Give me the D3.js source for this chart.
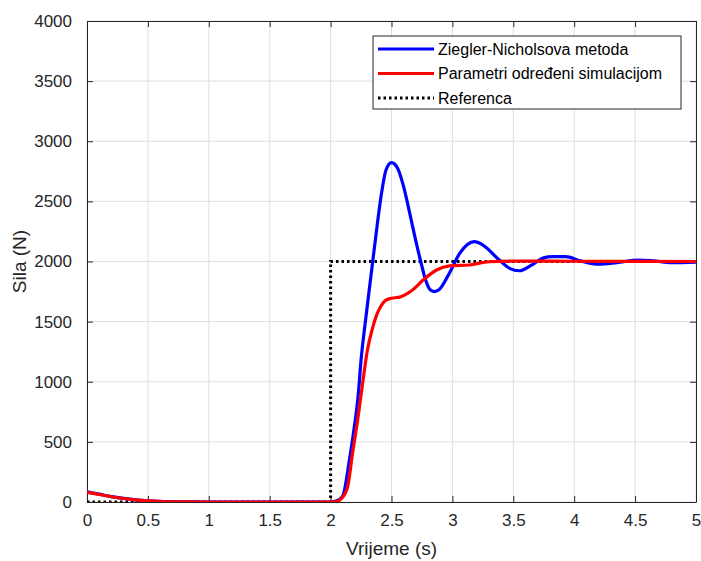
<!DOCTYPE html>
<html>
<head>
<meta charset="utf-8">
<script src="https://cdn.jsdelivr.net/npm/d3@7"></script>
<style>
html,body{margin:0;padding:0;background:#fff;}
svg{display:block;font-family:"Liberation Sans",Arial,Helvetica,sans-serif;}
</style>
</head>
<body>
<svg id="chart" width="701" height="561"></svg>
<script>
// ---- data ----
const zieglerTime = [0,0.1,0.2,0.3,0.4,0.5,0.6,0.8,1,2,2.05,2.1,2.154,2.195,2.228,2.25,2.282,2.33,2.37,2.414,2.455,2.5,2.55,2.6,2.65,2.7,2.74,2.78,2.82,2.85,2.89,2.975,3.06,3.18,3.25,3.385,3.47,3.55,3.65,3.75,3.82,3.93,4.05,4.2,4.35,4.53,4.65,4.8,5.0];
const zieglerForce = [85,65,45,30,18,10,5,1,0,0,10,50,349,626,904,1181,1470,1870,2200,2540,2761,2822,2775,2620,2400,2170,2000,1846,1762,1750,1765,1902,2068,2165,2137,2012,1943,1923,1970,2030,2040,2040,2005,1977,1990,2012,2005,1990,1995];

const simTime = [0,0.1,0.2,0.3,0.4,0.5,0.6,0.8,1,2,2.05,2.086,2.14,2.18,2.222,2.263,2.3,2.34,2.38,2.414,2.45,2.48,2.577,2.672,2.76,2.87,2.975,3.14,3.3,3.5,4,5];
const simForce = [80,62,44,29,17,9,4,1,0,0,5,25,127,405,682,987,1250,1430,1560,1630,1675,1690,1707,1763,1846,1929,1963,1971,1998,2003,2002,2000];

const refTime = [0,2,2,5];
const refForce = [0,0,2000,2000];

const seriesNames = ["Ziegler-Nicholsova metoda","Parametri određeni simulacijom","Referenca"];
const xTicks = [0,0.5,1,1.5,2,2.5,3,3.5,4,4.5,5];
const xTickLabels = ["0","0.5","1","1.5","2","2.5","3","3.5","4","4.5","5"];
const yTicks = [0,500,1000,1500,2000,2500,3000,3500,4000];
const xLabel = "Vrijeme (s)";
const yLabel = "Sila (N)";

// ---- layout ----
const svg = d3.select("#chart");
const L = 87, T = 21, R = 696, B = 502;
const x = d3.scaleLinear().domain([0,5]).range([L,R]);
const y = d3.scaleLinear().domain([0,4000]).range([B,T]);
const axisColor = "#262626";

// grid
const g = svg.append("g");
g.selectAll(".gx").data(xTicks).enter().append("line")
  .attr("x1",d=>x(d)).attr("x2",d=>x(d)).attr("y1",T).attr("y2",B)
  .attr("stroke","#dfdfdf").attr("stroke-width",1);
g.selectAll(".gy").data(yTicks).enter().append("line")
  .attr("x1",L).attr("x2",R).attr("y1",d=>y(d)).attr("y2",d=>y(d))
  .attr("stroke","#dfdfdf").attr("stroke-width",1);

// axes
const tickLen = 6;
const xAxisB = d3.axisBottom(x).tickValues(xTicks).tickFormat((d,i)=>xTickLabels[i]).tickSizeInner(-tickLen).tickSizeOuter(0).tickPadding(12);
const yAxisL = d3.axisLeft(y).tickValues(yTicks).tickFormat(d=>String(d)).tickSizeInner(-tickLen).tickSizeOuter(0).tickPadding(15);
const xAxisT = d3.axisTop(x).tickValues(xTicks).tickFormat("").tickSizeInner(-tickLen).tickSizeOuter(0);
const yAxisR = d3.axisRight(y).tickValues(yTicks).tickFormat("").tickSizeInner(-tickLen).tickSizeOuter(0);

function styleAxis(sel){
  sel.selectAll("path").attr("stroke",axisColor);
  sel.selectAll("line").attr("stroke",axisColor);
  sel.selectAll("text").attr("fill",axisColor).style("font-size","17px").style("font-family","'Liberation Sans',Arial,sans-serif");
}
svg.append("g").attr("transform",`translate(0,${B})`).call(xAxisB).call(styleAxis);
svg.append("g").attr("transform",`translate(${L},0)`).call(yAxisL).call(styleAxis);
svg.append("g").attr("transform",`translate(0,${T})`).call(xAxisT).call(styleAxis);
svg.append("g").attr("transform",`translate(${R},0)`).call(yAxisR).call(styleAxis);

// axis labels
svg.append("text").attr("x",(L+R)/2).attr("y",555).attr("text-anchor","middle")
  .attr("fill",axisColor).style("font-size","19px").text(xLabel);
svg.append("text").attr("transform",`translate(26,${(T+B)/2}) rotate(-90)`).attr("text-anchor","middle")
  .attr("fill",axisColor).style("font-size","19px").text(yLabel);

// clip
svg.append("clipPath").attr("id","clip").append("rect").attr("x",L).attr("y",T-2).attr("width",R-L).attr("height",B-T+2);
const plot = svg.append("g").attr("clip-path","url(#clip)");

const line = d3.line().x(d=>x(d[0])).y(d=>y(d[1]));
const smooth = d3.line().x(d=>x(d[0])).y(d=>y(d[1])).curve(d3.curveMonotoneX);

const refData = refTime.map((t,i)=>[t,refForce[i]]);
const zData = zieglerTime.map((t,i)=>[t,zieglerForce[i]]);
const sData = simTime.map((t,i)=>[t,simForce[i]]);

plot.append("path").datum(refData).attr("d",line).attr("fill","none")
  .attr("stroke","#000").attr("stroke-width",3).attr("stroke-dasharray","2.5,3");
plot.append("path").datum(zData).attr("d",smooth).attr("fill","none")
  .attr("stroke","#0000ff").attr("stroke-width",3.2).attr("stroke-linejoin","round");
plot.append("path").datum(sData).attr("d",smooth).attr("fill","none")
  .attr("stroke","#ff0000").attr("stroke-width",3.2).attr("stroke-linejoin","round");

// legend
const lg = svg.append("g");
lg.append("rect").attr("x",373).attr("y",36).attr("width",308).attr("height",73)
  .attr("fill","#fff").attr("stroke",axisColor).attr("stroke-width",1);
const legColors = ["#0000ff","#ff0000","#000"];
const legY = [49,73.5,98];
seriesNames.forEach((n,i)=>{
  lg.append("line").attr("x1",378).attr("x2",434).attr("y1",legY[i]).attr("y2",legY[i])
    .attr("stroke",legColors[i]).attr("stroke-width",3)
    .attr("stroke-dasharray", i===2 ? "2.5,3" : null);
  lg.append("text").attr("x",438).attr("y",legY[i]).attr("dy","0.35em")
    .attr("fill","#000").style("font-size","16px").text(n);
});
</script>
</body>
</html>
